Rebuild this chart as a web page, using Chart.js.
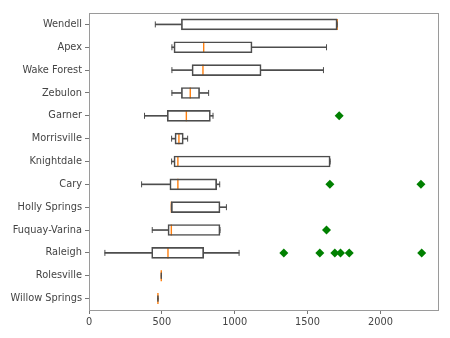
<!DOCTYPE html>
<html>
<head>
<meta charset="utf-8">
<script src="https://cdn.jsdelivr.net/npm/chart.js@4"></script>
<style>
  html, body { margin: 0; padding: 0; background: #fff; }
  #wrap { width: 450px; height: 338px; }
</style>
</head>
<body>
<div id="wrap"><canvas id="boxChart"></canvas></div>
<script>
const towns = ['Wendell', 'Apex', 'Wake Forest', 'Zebulon', 'Garner', 'Morrisville', 'Knightdale',
  'Cary', 'Holly Springs', 'Fuquay-Varina', 'Raleigh', 'Rolesville', 'Willow Springs'];
const whiskerLow = [455, 569, 569, 569, 381, 567, 567, 361, 565, 434, 109, 496, 473];
const q1 = [634, 583, 707, 634, 537, 590, 583, 555, 565, 542, 430, 496, 473];
const median = [1703, 787, 782, 695, 668, 617, 610, 610, 565, 565, 542, 496, 473];
const q3 = [1703, 1119, 1181, 759, 833, 647, 1655, 876, 899, 899, 787, 496, 473];
const whiskerHigh = [1703, 1630, 1609, 821, 851, 677, 1655, 897, 943, 899, 1030, 496, 473];
const outlierTowns = ['Garner', 'Cary', 'Cary', 'Fuquay-Varina', 'Raleigh', 'Raleigh', 'Raleigh', 'Raleigh', 'Raleigh', 'Raleigh'];
const outlierValues = [1717, 1653, 2278, 1630, 1337, 1584, 1687, 1726, 1786, 2283];
const xTicks = [0, 500, 1000, 1500, 2000];

(function() {
  const edge = '#4d4d4d';
  const el = document.getElementById('boxChart');

  const frame = {
    id: 'frame',
    afterDraw(chart) {
      const a = chart.chartArea;
      const ctx = chart.ctx;
      ctx.save();
      ctx.strokeStyle = '#9a9a9a';
      ctx.lineWidth = 1;
      ctx.strokeRect(Math.round(a.left) + 0.5, Math.round(a.top) + 0.5,
        Math.round(a.right - a.left), Math.round(a.bottom - a.top));
      ctx.restore();
    }
  };

  const barBase = { type: 'bar', indexAxis: 'y', grouped: false };

  const datasets = [
    Object.assign({}, barBase, {
      label: 'low whisker',
      data: towns.map((t, i) => [whiskerLow[i], q1[i]]),
      backgroundColor: edge, borderWidth: 0, barThickness: 1
    }),
    Object.assign({}, barBase, {
      label: 'high whisker',
      data: towns.map((t, i) => [q3[i], whiskerHigh[i]]),
      backgroundColor: edge, borderWidth: 0, barThickness: 1
    }),
    Object.assign({}, barBase, {
      label: 'box',
      data: towns.map((t, i) => [q1[i], q3[i]]),
      backgroundColor: 'rgba(255,255,255,0)', borderColor: edge, borderWidth: 1,
      borderSkipped: false, barThickness: 11
    }),
    {
      type: 'scatter', label: 'caps',
      data: towns.flatMap((t, i) => [{ x: whiskerLow[i], y: t }, { x: whiskerHigh[i], y: t }]),
      pointStyle: 'line', rotation: 90, radius: 3, borderColor: edge, borderWidth: 1
    },
    {
      type: 'scatter', label: 'median',
      data: towns.map((t, i) => ({ x: median[i], y: t })),
      pointStyle: 'line', rotation: 90, radius: 5.5, borderColor: '#ff7f0e', borderWidth: 1.4
    },
    {
      type: 'scatter', label: 'outliers',
      data: outlierTowns.map((t, i) => ({ x: outlierValues[i], y: t })),
      pointStyle: 'rectRot', radius: 4.5, backgroundColor: '#008000', borderColor: '#008000', borderWidth: 0
    }
  ];

  new Chart(el, {
    type: 'bar',
    data: { labels: towns, datasets },
    options: {
      responsive: true,
      maintainAspectRatio: false,
      animation: false,
      indexAxis: 'y',
      layout: { padding: { top: 13, right: 12, left: 0, bottom: 0 } },
      plugins: { legend: { display: false }, tooltip: { enabled: false } },
      scales: {
        x: {
          type: 'linear', min: 0, max: 2395,
          afterBuildTicks(scale) { scale.ticks = xTicks.map((v) => ({ value: v })); },
          afterFit(scale) { scale.height = 28; },
          grid: { drawOnChartArea: false, drawTicks: true, tickLength: 4, color: '#777' },
          border: { color: '#9a9a9a' },
          ticks: {
            color: '#444', padding: 3, font: { family: 'DejaVu Sans', size: 9.8 },
            callback: (v) => String(v)
          }
        },
        y: {
          type: 'category', offset: true,
          afterFit(scale) { scale.width = 89; },
          grid: { drawOnChartArea: false, drawTicks: true, tickLength: 4, color: '#777', offset: false },
          border: { color: '#9a9a9a' },
          ticks: { color: '#444', padding: 3, font: { family: 'DejaVu Sans', size: 9.8 } }
        }
      }
    },
    plugins: [frame]
  });
})();
</script>
</body>
</html>
